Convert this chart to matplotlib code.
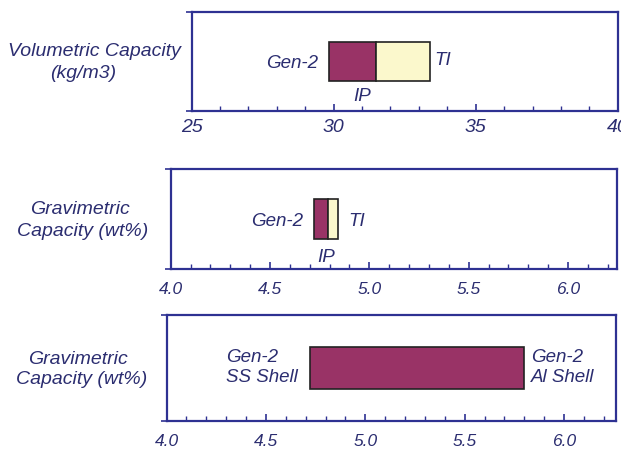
import matplotlib
matplotlib.use("Agg")
import matplotlib.pyplot as plt
from matplotlib.ticker import MultipleLocator

# ---- data ----
vol_ip = [29.85, 31.48]     # Gen-2 IP segment (start, end) kg/m3
vol_ti = [31.48, 33.38]     # TI segment
grav_ip = [4.72, 4.79]      # wt%
grav_ti = [4.79, 4.84]
shell_range = [4.72, 5.80]  # SS shell -> Al shell, wt%

ylabel_lines = [["Volumetric Capacity", "(kg/m3)"],
                ["Gravimetric", "Capacity (wt%)"],
                ["Gravimetric", "Capacity (wt%)"]]
xlims = [(25, 40), (4.0, 6.245), (4.0, 6.26)]
major_steps = [5, 0.5, 0.5]
minor_steps = [1, 0.1, 0.1]
tick_fmt = ["{:.0f}", "{:.1f}", "{:.1f}"]

W, H = 621, 451
NAVY = "#2E3192"
TXT = "#2B2D70"
MAROON = "#993366"
CREAM = "#FBF8CC"

plt.rcParams['font.family'] = ['Liberation Sans', 'DejaVu Sans']

fig = plt.figure(figsize=(W / 100, H / 100), dpi=100)

# pixel boxes (left, right, top, bottom)
boxes = [(191.7, 617.7, 12.3, 110.7), (170.7, 616.7, 169, 269), (166.6, 615.7, 314.7, 421)]
tick_sizes = [14, 12.5, 12.5]
pads = [6, 9, 9.5]
axes = []
for i, (l, r, t, b) in enumerate(boxes):
    ax = fig.add_axes([l / W, 1 - b / H, (r - l) / W, (b - t) / H])
    ax.set_xlim(*xlims[i])
    ax.set_ylim(0, 1)
    for s in ax.spines.values():
        s.set_color(NAVY)
        s.set_linewidth(1.6)
    ax.xaxis.set_major_locator(MultipleLocator(major_steps[i]))
    ax.xaxis.set_minor_locator(MultipleLocator(minor_steps[i]))
    ax.tick_params(axis='x', which='major', direction='in', length=5, width=1.2, color=NAVY,
                   labelcolor=TXT, labelsize=tick_sizes[i], pad=pads[i])
    ax.tick_params(axis='x', which='minor', direction='in', length=3.5, width=1.0, color=NAVY)
    lo, hi = xlims[i]
    ticks = [t for t in ax.get_xticks() if lo - 1e-9 <= t <= hi + 1e-9]
    ax.set_xticks(ticks)
    ax.set_xticklabels([tick_fmt[i].format(t) for t in ticks], style='italic')
    ax.set_yticks([0, 1])
    ax.set_yticklabels([])
    ax.tick_params(axis='y', direction='out', length=4, width=1.2, color=NAVY)
    axes.append(ax)

ybar, hbar = 0.3, 0.4
tk = dict(color=TXT, fontsize=13.5, style='italic')

# panel 1
ax = axes[0]
ax.barh(ybar, vol_ip[1] - vol_ip[0], left=vol_ip[0], height=hbar, align='edge',
        color=MAROON, edgecolor='#222222', linewidth=1.2)
ax.barh(ybar, vol_ti[1] - vol_ti[0], left=vol_ti[0], height=hbar, align='edge',
        color=CREAM, edgecolor='#222222', linewidth=1.2)
ax.annotate("Gen-2", (vol_ip[0], 0.48), xytext=(-8, 0), textcoords='offset points',
            ha='right', va='center', **tk)
ax.annotate("TI", (vol_ti[1], 0.51), xytext=(3, 0), textcoords='offset points',
            ha='left', va='center', **tk)
ax.annotate("IP", ((vol_ip[0] + vol_ip[1]) / 2, 0.14), xytext=(7, 0), textcoords='offset points',
            ha='center', va='center', **tk)

# panel 2
ax = axes[1]
ax.barh(ybar, grav_ip[1] - grav_ip[0], left=grav_ip[0], height=hbar, align='edge',
        color=MAROON, edgecolor='#222222', linewidth=1.2)
ax.barh(ybar, grav_ti[1] - grav_ti[0], left=grav_ti[0], height=hbar, align='edge',
        color=CREAM, edgecolor='#222222', linewidth=1.2)
ax.annotate("Gen-2", (grav_ip[0], 0.48), xytext=(-8, 0), textcoords='offset points',
            ha='right', va='center', **tk)
ax.annotate("TI", (grav_ti[1], 0.48), xytext=(8, 0), textcoords='offset points',
            ha='left', va='center', **tk)
ax.annotate("IP", ((grav_ip[0] + grav_ti[1]) / 2, 0.12), ha='center', va='center', **tk)

# panel 3
ax = axes[2]
ax.barh(ybar, shell_range[1] - shell_range[0], left=shell_range[0], height=hbar, align='edge',
        color=MAROON, edgecolor='#222222', linewidth=1.2)
ax.annotate("Gen-2\nSS Shell", (shell_range[0], 0.50), xytext=(-60, 0), textcoords='offset points',
            ha='left', va='center', linespacing=1.25, **tk)
ax.annotate("Gen-2\nAl Shell", (shell_range[1], 0.50), xytext=(5, 0), textcoords='offset points',
            ha='left', va='center', linespacing=1.25, **tk)

# y labels (each line placed as in the reference)
lab = dict(color=TXT, fontsize=14, style='italic', ha='center', va='center')
label_pos = [[(94.5, 51.7), (83, 73.3)],
             [(80, 210), (82.5, 231.7)],
             [(77.5, 359.3), (81.7, 380)]]
for lines, poss in zip(ylabel_lines, label_pos):
    for txt, (x, y) in zip(lines, poss):
        fig.text(x / W, 1 - y / H, txt, **lab)

fig.savefig("out.png", dpi=100)
